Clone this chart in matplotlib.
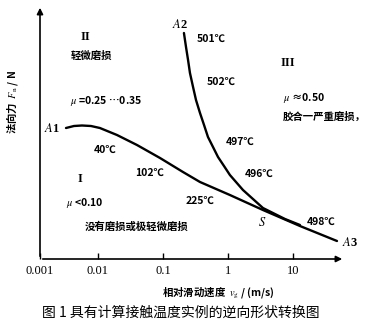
import matplotlib
matplotlib.use("Agg")
import matplotlib.pyplot as plt

plt.rcParams['font.family'] = ['Noto Sans CJK SC', 'DejaVu Sans']
plt.rcParams['mathtext.fontset'] = 'stix'

# boundary A1 -> S -> A3 (sliding speed m/s, normal force in arbitrary units)
v_a1a3 = [0.00322, 0.00427, 0.00567, 0.0078, 0.0107, 0.0196, 0.0398, 0.09,
          0.203, 0.371, 1.07, 3.45, 12.8, 47.5]
fn_a1a3 = [131, 133, 133.5, 133, 131, 124, 114, 101, 87, 77, 64, 49, 33, 18]

# boundary A2 -> S
v_a2 = [0.21, 0.226, 0.243, 0.26, 0.29, 0.322, 0.371, 0.428, 0.492, 0.588,
        0.702, 0.868, 1.07, 1.70, 3.45, 7.53, 12.8]
fn_a2 = [226, 212, 199, 186, 172, 159, 146, 134, 122, 112, 102, 93, 84, 69, 51, 40, 34]

tick_vals = [10 ** -2.892, 0.01, 0.1, 1, 10]
tick_labels = ['0.001', '0.01', '0.1', '1', '10']

W, H = 374, 325
fig = plt.figure(figsize=(W / 100, H / 100), dpi=100)
ax = fig.add_axes([40 / W, (H - 259) / H, (345 - 40) / W, (259 - 5) / H])

ax.plot(v_a1a3, fn_a1a3, color='black', lw=1.7, solid_capstyle='round')
ax.plot(v_a2, fn_a2, color='black', lw=1.7, solid_capstyle='round')

ax.set_xscale('log')
ax.set_xlim(10 ** -2.892, 10 ** 1.8)
ax.set_ylim(0, 254)
ax.set_xticks(tick_vals)
ax.set_xticklabels(tick_labels, fontfamily='Liberation Serif', fontsize=9)
ax.minorticks_off()
ax.tick_params(axis='x', direction='in', length=4, width=1, pad=4)
ax.set_yticks([])
for s in ax.spines.values():
    s.set_visible(False)

# axes with arrows
ax.annotate('', xy=(1.0, 0), xytext=(0, 0), xycoords='axes fraction',
            arrowprops=dict(arrowstyle='-|>', color='black', lw=1.2, mutation_scale=9))
ax.annotate('', xy=(0, 1.0), xytext=(0, 0), xycoords='axes fraction',
            arrowprops=dict(arrowstyle='-|>', color='black', lw=1.2, mutation_scale=9))


def put(x, y, s, **kw):
    kw.setdefault('fontsize', 7.5)
    kw.setdefault('fontweight', 'bold')
    kw.setdefault('ha', 'center')
    kw.setdefault('va', 'center')
    fig.text(x / W, 1 - y / H, s, **kw)


serif = dict(fontfamily='Liberation Serif', fontsize=9)
put(85, 37, 'II', **serif)
put(92, 56, '轻微磨损')
put(70, 101, r'$\mu$ =0.25 ⋯0.35', ha='left')
put(52, 128, r'$A$1', **serif)
put(105, 150, '40℃')
put(80, 179, 'I', **serif)
put(150, 173, '102℃')
put(66, 203, r'$\mu$ <0.10', ha='left')
put(137, 227, '没有磨损或极轻微磨损')
put(200, 201, '225℃')
put(262, 223, r'$S$', **serif)
put(321, 222, '498℃')
put(350, 243, r'$A$3', **serif)
put(259, 174, '496℃')
put(240, 142, '497℃')
put(221, 82, '502℃')
put(211, 39, '501℃')
put(180, 25, r'$A$2', **serif)
put(288, 63, 'III', **serif)
put(283, 98, r'$\mu$ ≈0.50', ha='left')
put(283, 117, '胶合一严重磨损，', ha='left')

put(13, 102, r'法向力  $F_{\rm n}$ / N', rotation=90)
put(218, 293, r'相对滑动速度  $v_{\rm g}$ / (m/s)')
put(181, 313, '图 1 具有计算接触温度实例的逆向形状转换图', fontsize=10, fontweight='normal')

fig.savefig('out.png', dpi=100)
